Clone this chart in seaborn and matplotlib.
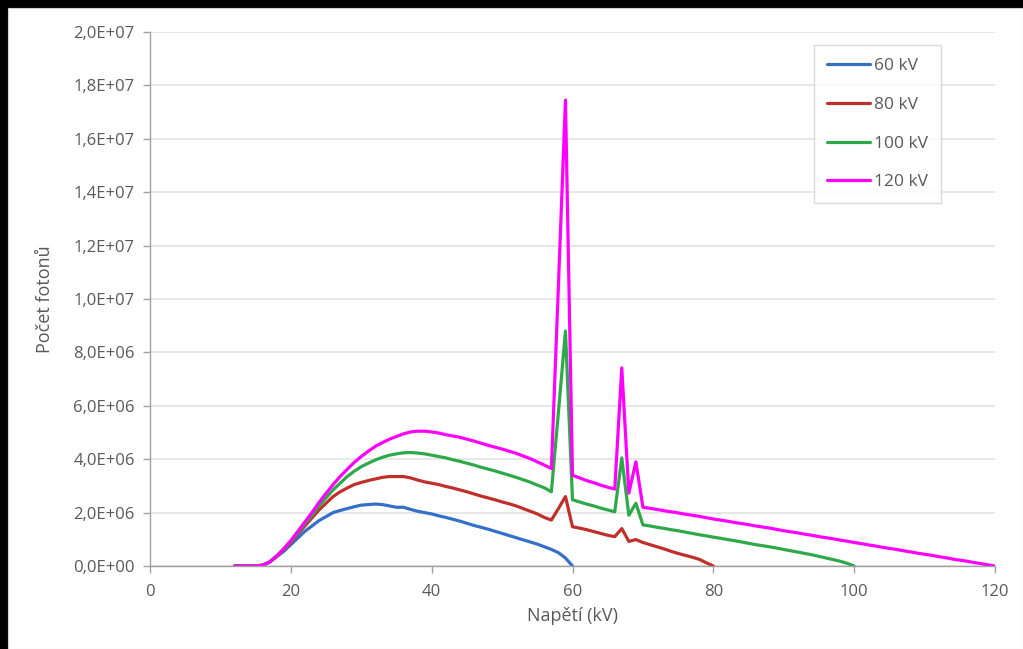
import numpy as np
import pandas as pd
import matplotlib
matplotlib.use("Agg")
import matplotlib.pyplot as plt
import matplotlib.ticker as mticker
import seaborn as sns

# ---- data (photon counts in units of 1e6), energies 12 .. kVp in 1 kV steps ----
series_names = ["60 kV", "80 kV", "100 kV", "120 kV"]
kvp = [60, 80, 100, 120]

counts_60 = [0, 0, 0, 0, 0.03, 0.15, 0.35, 0.55, 0.8, 1.05, 1.3, 1.5, 1.7, 1.85, 2.0,
             2.08, 2.15, 2.22, 2.28, 2.3, 2.32, 2.3, 2.25, 2.2, 2.2, 2.12, 2.05, 2.0, 1.95,
             1.88, 1.82, 1.75, 1.68, 1.6, 1.52, 1.45, 1.38, 1.3, 1.22, 1.14, 1.06, 0.98,
             0.9, 0.82, 0.72, 0.62, 0.5, 0.3, 0.0]

counts_80 = [0, 0, 0, 0, 0.03, 0.15, 0.37, 0.6, 0.88, 1.2, 1.5, 1.8, 2.1, 2.35, 2.6,
             2.78, 2.92, 3.05, 3.13, 3.2, 3.26, 3.32, 3.35, 3.35, 3.35, 3.3, 3.22, 3.15,
             3.1, 3.05, 2.98, 2.92, 2.85, 2.78, 2.7, 2.62, 2.55, 2.48, 2.4, 2.33, 2.25,
             2.15, 2.05, 1.95, 1.82, 1.72, 2.15, 2.6, 1.47, 1.42, 1.36, 1.29, 1.22, 1.15,
             1.1, 1.4, 0.92, 0.99, 0.88, 0.8, 0.72, 0.64, 0.55, 0.47, 0.4, 0.33, 0.25,
             0.12, 0.0]

counts_100 = [0, 0, 0, 0, 0.03, 0.15, 0.38, 0.63, 0.92, 1.25, 1.58, 1.9, 2.25, 2.55,
              2.85, 3.1, 3.35, 3.55, 3.72, 3.85, 3.97, 4.07, 4.15, 4.2, 4.24, 4.25,
              4.23, 4.2, 4.15, 4.1, 4.05, 3.98, 3.92, 3.85, 3.78, 3.7, 3.63, 3.56, 3.48,
              3.4, 3.32, 3.23, 3.14, 3.03, 2.93, 2.78, 5.75, 8.8, 2.48, 2.4, 2.32, 2.25,
              2.17, 2.1, 2.03, 4.05, 1.9, 2.35, 1.54, 1.5, 1.45, 1.41, 1.36, 1.32, 1.27,
              1.22, 1.17, 1.13, 1.08, 1.04, 0.99, 0.95, 0.9, 0.85, 0.8, 0.76, 0.72, 0.67,
              0.62, 0.57, 0.52, 0.47, 0.42, 0.36, 0.3, 0.24, 0.18, 0.1, 0.0]

counts_120 = [0, 0, 0, 0, 0.03, 0.15, 0.38, 0.65, 0.95, 1.3, 1.65, 2.0, 2.38, 2.72,
              3.05, 3.35, 3.62, 3.88, 4.1, 4.3, 4.48, 4.62, 4.75, 4.85, 4.95, 5.02,
              5.05, 5.05, 5.02, 4.98, 4.92, 4.87, 4.82, 4.75, 4.68, 4.6, 4.52, 4.45,
              4.38, 4.3, 4.22, 4.12, 4.02, 3.9, 3.78, 3.65, 10.5, 17.45, 3.4, 3.3, 3.2,
              3.12, 3.03, 2.95, 2.88, 7.42, 2.73, 3.9, 2.2, 2.16, 2.12, 2.07, 2.03,
              1.99, 1.94, 1.9, 1.86, 1.81, 1.76, 1.72, 1.68, 1.63, 1.59, 1.55, 1.5,
              1.46, 1.42, 1.37, 1.32, 1.28, 1.24, 1.19, 1.15, 1.1, 1.06, 1.02, 0.97,
              0.93, 0.88, 0.84, 0.79, 0.75, 0.7, 0.66, 0.62, 0.57, 0.53, 0.48, 0.44,
              0.4, 0.35, 0.31, 0.26, 0.22, 0.18, 0.13, 0.09, 0.04, 0.0]

all_counts = [counts_60, counts_80, counts_100, counts_120]
colors = ["#3570C8", "#C0302A", "#2FA84A", "#FF00FF"]

x_ticks = [0, 20, 40, 60, 80, 100, 120]
y_ticks = [0, 2e6, 4e6, 6e6, 8e6, 1e7, 1.2e7, 1.4e7, 1.6e7, 1.8e7, 2e7]

# ---- long-form table ----
frames = []
for name, kv, vals in zip(series_names, kvp, all_counts):
    e = np.arange(12, kv + 1)
    frames.append(pd.DataFrame({"E": e, "N": np.array(vals) * 1e6, "series": name}))
df = pd.concat(frames, ignore_index=True)

sns.set_theme(style="white")
plt.rcParams["font.family"] = ["Open Sans", "DejaVu Sans"]

text_col = "#595959"
fig = plt.figure(figsize=(10.23, 6.49), dpi=100, facecolor="black")
# white chart area inside black frame
bg = matplotlib.patches.Rectangle((8 / 1023, 0), 1 - 8 / 1023, 1 - 8 / 649,
                                  transform=fig.transFigure, facecolor="white",
                                  edgecolor="#D0D0D0", linewidth=0.8, zorder=-10)
fig.patches.append(bg)
ax = fig.add_axes([150 / 1023, (649 - 566) / 649, 845 / 1023, 534 / 649])
ax.set_zorder(5)
ax.set_facecolor("white")

sns.lineplot(data=df, x="E", y="N", hue="series", palette=colors, hue_order=series_names,
             estimator=None, sort=False, linewidth=2.3, ax=ax, legend=True)

ax.set_xlim(0, 120)
ax.set_ylim(0, 2e7)
ax.set_xticks(x_ticks)
ax.set_yticks(y_ticks)
ax.yaxis.set_major_formatter(mticker.FuncFormatter(lambda v, p: f"{v:.1E}".replace(".", ",")))
ax.grid(axis="y", color="#E3E3E3", linewidth=1.2)
ax.grid(axis="x", visible=False)
for s in ["top", "right"]:
    ax.spines[s].set_visible(False)
for s in ["left", "bottom"]:
    ax.spines[s].set_color("#A0A0A0")
    ax.spines[s].set_linewidth(1.0)
ax.tick_params(axis="both", which="major", direction="out", length=5, width=1.0,
               color="#A0A0A0", labelsize=12, labelcolor=text_col, pad=6,
               left=True, bottom=True)
ax.tick_params(axis="x", pad=8)
ax.set_xlabel("Napětí (kV)", fontsize=13, color=text_col, labelpad=5)
ax.set_ylabel("Počet fotonů", fontsize=13, color=text_col, labelpad=14)

leg = ax.legend(loc="upper left", bbox_to_anchor=((814 - 150) / 845, (566 - 45) / 534),
                frameon=True, fancybox=False, edgecolor="#D0D0D0", fontsize=12.5,
                handlelength=2.5, labelspacing=1.3, borderpad=0.75, handletextpad=0.2,
                borderaxespad=0)
for t in leg.get_texts():
    t.set_color(text_col)
leg.get_frame().set_linewidth(1.0)
for ln in leg.get_lines():
    ln.set_linewidth(2.3)

fig.savefig("out.png", dpi=100, facecolor=fig.get_facecolor())
